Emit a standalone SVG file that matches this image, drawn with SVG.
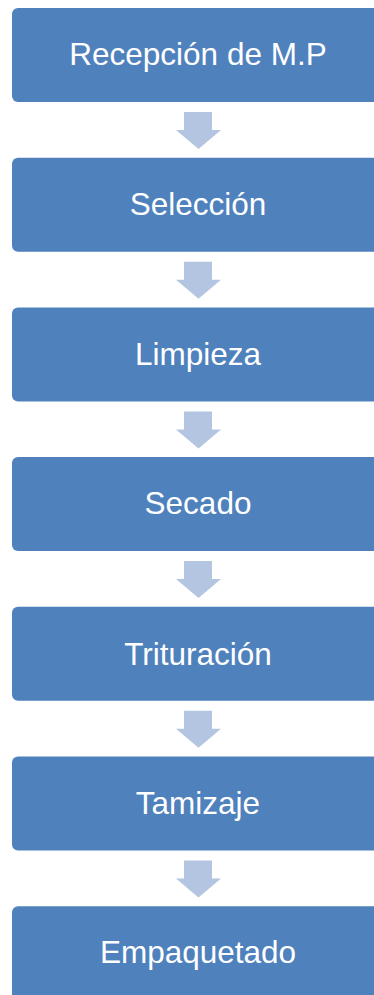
<svg xmlns="http://www.w3.org/2000/svg" width="374" height="995" viewBox="0 0 374 995">
<style>
.box{fill:#4F81BD}
.arr{fill:#B4C5E1}
.t{font-family:"Liberation Sans",Arial,sans-serif;font-size:31.5px;fill:#FFFFFF;text-anchor:middle}
</style>
<defs>
<path id="a" class="arr" d="M184,112 H212 V130 H221 L198.5,149 L176,130 H184 Z"/>
</defs>
<rect width="374" height="995" fill="#FFFFFF"/>
<g id="connectors">
<use href="#a" y="0"/>
<use href="#a" y="149.7"/>
<use href="#a" y="299.4"/>
<use href="#a" y="449.1"/>
<use href="#a" y="598.8"/>
<use href="#a" y="748.5"/>
</g>
<g id="n1"><rect class="box" x="12" y="8" width="376" height="94" rx="6"/><text class="t" x="198" y="65">Recepción de M.P</text></g>
<g id="n2"><rect class="box" x="12" y="157.7" width="376" height="94" rx="6"/><text class="t" x="198" y="214.7">Selección</text></g>
<g id="n3"><rect class="box" x="12" y="307.4" width="376" height="94" rx="6"/><text class="t" x="198" y="364.6">Limpieza</text></g>
<g id="n4"><rect class="box" x="12" y="457.1" width="376" height="94" rx="6"/><text class="t" x="198" y="514.1">Secado</text></g>
<g id="n5"><rect class="box" x="12" y="606.8" width="376" height="94" rx="6"/><text class="t" x="198" y="664.5">Trituración</text></g>
<g id="n6"><rect class="box" x="12" y="756.5" width="376" height="94" rx="6"/><text class="t" x="198" y="813.5">Tamizaje</text></g>
<g id="n7"><rect class="box" x="12" y="906.2" width="376" height="94" rx="6"/><text class="t" x="198" y="963.2">Empaquetado</text></g>
</svg>
